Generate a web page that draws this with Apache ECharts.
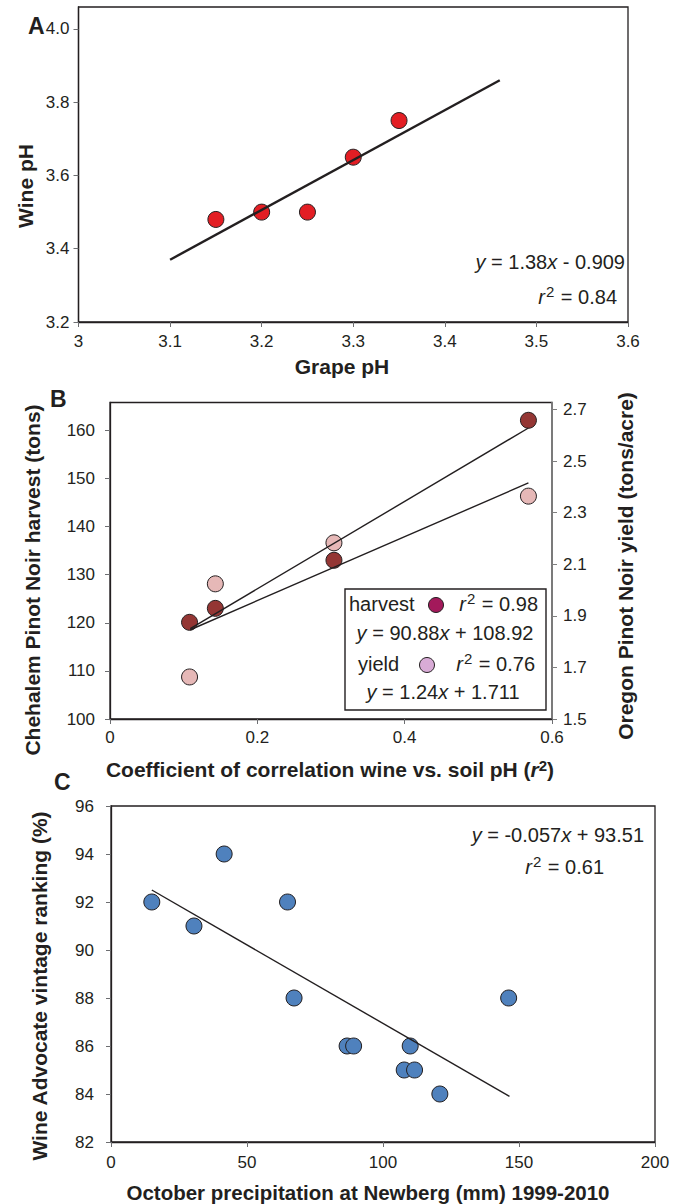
<!DOCTYPE html>
<html>
<head>
<meta charset="utf-8">
<script src="https://cdn.jsdelivr.net/npm/echarts@6/dist/echarts.min.js"></script>
<style>html,body{margin:0;padding:0;background:#fff}#c{width:673px;height:1204px}</style>
</head>
<body>
<div id="c"></div>
<script>
// ---- Panel A data ----
const aGrapePH = [3.15, 3.20, 3.25, 3.30, 3.35];
const aWinePH  = [3.48, 3.50, 3.50, 3.65, 3.75];
const aFitX = [3.10, 3.46];
const aFitY = [3.37, 3.86];
const aXTicks = [3.0, 3.1, 3.2, 3.3, 3.4, 3.5, 3.6];
const aYTicks = [3.2, 3.4, 3.6, 3.8, 4.0];

// ---- Panel B data ----
const bCorr    = [0.108, 0.143, 0.304, 0.568];
const bHarvest = [120.1, 123.0, 133.0, 162.1];
const bYield   = [1.663, 2.024, 2.183, 2.364];
const bFitX = [0.109, 0.568];
const bHarvestFit = [118.8, 160.5];
const bYieldFit   = [1.846, 2.415];
const bXTicks = [0, 0.2, 0.4, 0.6];
const bLeftTicks = [100, 110, 120, 130, 140, 150, 160];
const bRightTicks = [1.5, 1.7, 1.9, 2.1, 2.3, 2.5, 2.7];

// ---- Panel C data ----
const cPrecip = [15.0, 30.5, 41.6, 64.9, 67.3, 86.8, 89.2, 110.0, 107.8, 111.6, 120.9, 146.2];
const cRank   = [92, 91, 94, 92, 88, 86, 86, 86, 85, 85, 84, 88];
const cFitX = [15, 146.5];
const cFitY = [92.5, 83.9];
const cXTicks = [0, 50, 100, 150, 200];
const cYTicks = [82, 84, 86, 88, 90, 92, 94, 96];

const zip = (xs, ys) => xs.map((x, i) => [x, ys[i]]);

const FONT = "'Liberation Sans', Arial, Helvetica, sans-serif";
const INK = '#231f20';
const TICKFS = 17;

function valAxis(o) {
  const ticks = o.ticks;
  return {
    type: 'value',
    gridIndex: o.grid,
    position: o.position,
    min: o.min, max: o.max,
    splitLine: { show: false },
    axisLine: { show: true, onZero: false, lineStyle: { color: o.lineColor || INK, width: o.lineWidth || 1.3 } },
    axisTick: { show: true, inside: false, length: 5, customValues: ticks, lineStyle: { color: o.tickColor || '#6d6e71', width: 1 } },
    axisLabel: {
      show: true, customValues: ticks, margin: o.margin, color: INK,
      fontFamily: FONT, fontSize: TICKFS,
      formatter: o.fmt
    }
  };
}

const f1 = v => (+v).toFixed(1);
const fTrim = v => String(+(+v).toFixed(2));

const option = {
  animation: false,
  backgroundColor: '#ffffff',
  grid: [
    { left: 78.5, top: 7, width: 549.5, height: 315, show: true, borderColor: INK, borderWidth: 1.3, backgroundColor: 'transparent' },
    { left: 110, top: 402.5, width: 442, height: 316.5, show: true, borderColor: INK, borderWidth: 1.3, backgroundColor: 'transparent' },
    { left: 111, top: 806, width: 544, height: 336, show: true, borderColor: INK, borderWidth: 1.3, backgroundColor: 'transparent' }
  ],
  xAxis: [
    valAxis({ grid: 0, position: 'bottom', min: 3.0, max: 3.6, ticks: aXTicks, margin: 11, fmt: fTrim }),
    valAxis({ grid: 1, position: 'bottom', min: 0, max: 0.6, ticks: bXTicks, margin: 10, fmt: fTrim }),
    valAxis({ grid: 2, position: 'bottom', min: 0, max: 200, ticks: cXTicks, margin: 12, fmt: fTrim })
  ],
  yAxis: [
    valAxis({ grid: 0, position: 'left', min: 3.2, max: 4.06, ticks: aYTicks, margin: 9, fmt: f1 }),
    valAxis({ grid: 1, position: 'left', min: 100, max: 165.8, ticks: bLeftTicks, margin: 15, fmt: fTrim }),
    valAxis({ grid: 1, position: 'right', min: 1.5, max: 2.727, ticks: bRightTicks, margin: 11, fmt: f1, lineColor: '#7f7f7f', lineWidth: 1.6, tickColor: '#7f7f7f' }),
    valAxis({ grid: 2, position: 'left', min: 82, max: 96, ticks: cYTicks, margin: 17, fmt: fTrim })
  ],
  series: [
    { type: 'scatter', xAxisIndex: 0, yAxisIndex: 0, data: zip(aGrapePH, aWinePH), symbolSize: 16,
      itemStyle: { color: '#e31e24', borderColor: INK, borderWidth: 1, opacity: 1 }, z: 3 },
    { type: 'line', xAxisIndex: 0, yAxisIndex: 0, data: zip(aFitX, aFitY), symbol: 'none',
      lineStyle: { color: INK, width: 2.4 }, z: 4 },

    { type: 'scatter', xAxisIndex: 1, yAxisIndex: 2, data: zip(bCorr, bYield), symbolSize: 16,
      itemStyle: { color: '#e6b8b7', borderColor: INK, borderWidth: 1, opacity: 1 }, z: 3 },
    { type: 'scatter', xAxisIndex: 1, yAxisIndex: 1, data: zip(bCorr, bHarvest), symbolSize: 16,
      itemStyle: { color: '#943634', borderColor: INK, borderWidth: 1, opacity: 1 }, z: 3 },
    { type: 'line', xAxisIndex: 1, yAxisIndex: 1, data: zip(bFitX, bHarvestFit), symbol: 'none',
      lineStyle: { color: INK, width: 1.4 }, z: 4 },
    { type: 'line', xAxisIndex: 1, yAxisIndex: 2, data: zip(bFitX, bYieldFit), symbol: 'none',
      lineStyle: { color: INK, width: 1.4 }, z: 4 },

    { type: 'scatter', xAxisIndex: 2, yAxisIndex: 3, data: zip(cPrecip, cRank), symbolSize: 16,
      itemStyle: { color: '#4f81bd', borderColor: INK, borderWidth: 1, opacity: 1 }, z: 3 },
    { type: 'line', xAxisIndex: 2, yAxisIndex: 3, data: zip(cFitX, cFitY), symbol: 'none',
      lineStyle: { color: INK, width: 1.4 }, z: 4 }
  ],
  graphic: []
};

const RICH = {
  i: { fontStyle: 'italic', fontFamily: FONT, fontSize: 20, fill: INK, lineHeight: 26 },
  n: { fontFamily: FONT, fontSize: 20, fill: INK, lineHeight: 26 },
  sup: { fontFamily: FONT, fontSize: 15, fill: INK, verticalAlign: 'top', lineHeight: 26, padding: [0, 1, 8, 1] }
};

function txt(text, x, y, opts) {
  opts = opts || {};
  return {
    type: 'text', x: x, y: y, rotation: opts.rot || 0, z: 100,
    style: Object.assign({
      text: text, fill: INK, fontFamily: FONT,
      fontSize: opts.size || 21, fontWeight: opts.weight || 'normal',
      align: opts.align || 'center', verticalAlign: opts.va || 'middle'
    }, opts.rich ? { rich: RICH } : {})
  };
}

const g = option.graphic;
// panel letters
g.push(txt('A', 28, 26, { size: 23, weight: 'bold', align: 'left' }));
g.push(txt('B', 50, 398.5, { size: 23, weight: 'bold', align: 'left' }));
g.push(txt('C', 54, 782, { size: 23, weight: 'bold', align: 'left' }));
// axis titles
g.push(txt('Wine pH', 25, 186, { weight: 'bold', rot: Math.PI / 2 }));
g.push(txt('Grape pH', 342, 366, { weight: 'bold' }));
g.push(txt('Chehalem Pinot Noir harvest (tons)', 32.5, 580, { weight: 'bold', rot: Math.PI / 2 }));
g.push(txt('Oregon Pinot Noir yield (tons/acre)', 625, 566, { weight: 'bold', rot: Math.PI / 2 }));
g.push(txt('Coefficient of correlation wine vs. soil pH ({bi|r}{bsup|2})', 330, 769, { weight: 'bold' }));
g[g.length - 1].style.rich = {
  bi: { fontStyle: 'italic', fontWeight: 'bold', fontFamily: FONT, fontSize: 21, fill: INK },
  bsup: { fontWeight: 'bold', fontFamily: FONT, fontSize: 15, fill: INK, verticalAlign: 'top', padding: [0, 0, 8, 0] }
};
g.push(txt('Wine Advocate vintage ranking (%)', 39, 986, { weight: 'bold', rot: Math.PI / 2 }));
g.push(txt('October precipitation at Newberg (mm) 1999-2010', 368, 1192, { weight: 'bold', size: 20.5 }));

// panel A annotation
g.push(txt('{i|y}{n| = 1.38}{i|x}{n| - 0.909}', 625, 262, { align: 'right', rich: true }));
g.push(txt('{i|r}{sup|2}{n| = 0.84}', 617, 297, { align: 'right', rich: true }));
// panel C annotation
g.push(txt('{i|y}{n| = -0.057}{i|x}{n| + 93.51}', 644, 835, { align: 'right', rich: true }));
g.push(txt('{i|r}{sup|2}{n| = 0.61}', 604, 866.5, { align: 'right', rich: true }));

// panel B legend box
g.push({ type: 'rect', z: 90, shape: { x: 345, y: 589, width: 201, height: 121 },
  style: { fill: '#ffffff', stroke: INK, lineWidth: 1.4 } });
g.push(txt('{n|harvest}', 349, 604, { align: 'left', rich: true }));
g.push({ type: 'circle', z: 100, shape: { cx: 436, cy: 605, r: 7.5 }, style: { fill: '#a3195b', stroke: INK, lineWidth: 1 } });
g.push(txt('{i|r}{sup|2}{n| = 0.98}', 538, 604, { align: 'right', rich: true }));
g.push(txt('{i|y}{n| = 90.88}{i|x}{n| + 108.92}', 445, 633, { rich: true }));
g.push(txt('{n|yield}', 358, 664, { align: 'left', rich: true }));
g.push({ type: 'circle', z: 100, shape: { cx: 427, cy: 665, r: 7.5 }, style: { fill: '#d8abd6', stroke: INK, lineWidth: 1 } });
g.push(txt('{i|r}{sup|2}{n| = 0.76}', 535, 664, { align: 'right', rich: true }));
g.push(txt('{i|y}{n| = 1.24}{i|x}{n| + 1.711}', 443, 692, { rich: true }));

const chart = echarts.init(document.getElementById('c'), null, { renderer: 'svg', width: 673, height: 1204 });
chart.setOption(option);
</script>
</body>
</html>
